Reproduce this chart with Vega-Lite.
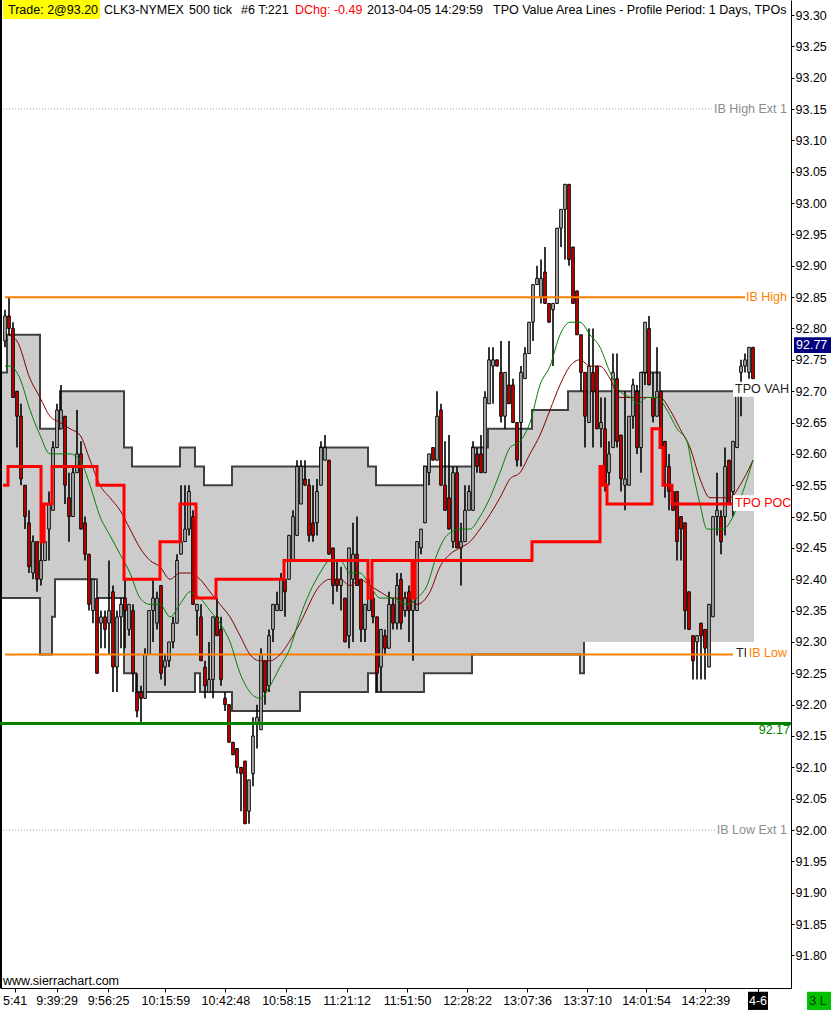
{
  "$schema": "https://vega.github.io/schema/vega-lite/v6.json",
  "width": 791,
  "height": 988,
  "autosize": "none",
  "padding": {"left": 0, "top": 0, "right": 41, "bottom": 22},
  "background": "white",
  "config": {"view": {"stroke": null}, "font": "Liberation Sans"},
  "datasets": {
    "candles": [
      {"k":1,"o":92.78,"h":92.83,"l":92.77,"c":92.82},{"k":2,"o":92.82,"h":92.85,"l":92.79,"c":92.80},{"k":3,"o":92.80,"h":92.81,"l":92.69,"c":92.69},{"k":4,"o":92.70,"h":92.70,"l":92.61,"c":92.66},{"k":5,"o":92.66,"h":92.68,"l":92.55,"c":92.56},
      {"k":6,"o":92.55,"h":92.55,"l":92.48,"c":92.50},{"k":7,"o":92.49,"h":92.51,"l":92.41,"c":92.42},{"k":8,"o":92.41,"h":92.47,"l":92.40,"c":92.46},{"k":9,"o":92.46,"h":92.46,"l":92.38,"c":92.40},{"k":10,"o":92.40,"h":92.46,"l":92.39,"c":92.43},
      {"k":11,"o":92.43,"h":92.46,"l":92.43,"c":92.46},{"k":12,"o":92.48,"h":92.54,"l":92.43,"c":92.52},{"k":13,"o":92.51,"h":92.62,"l":92.51,"c":92.61},{"k":14,"o":92.61,"h":92.68,"l":92.61,"c":92.67},{"k":15,"o":92.64,"h":92.71,"l":92.64,"c":92.67},
      {"k":16,"o":92.66,"h":92.66,"l":92.52,"c":92.55},{"k":17,"o":92.53,"h":92.57,"l":92.46,"c":92.50},{"k":18,"o":92.50,"h":92.58,"l":92.50,"c":92.57},{"k":19,"o":92.57,"h":92.67,"l":92.57,"c":92.60},{"k":20,"o":92.60,"h":92.62,"l":92.48,"c":92.48},
      {"k":21,"o":92.49,"h":92.50,"l":92.43,"c":92.44},{"k":22,"o":92.44,"h":92.44,"l":92.35,"c":92.36},{"k":23,"o":92.35,"h":92.40,"l":92.33,"c":92.40},{"k":24,"o":92.37,"h":92.37,"l":92.25,"c":92.25},{"k":25,"o":92.33,"h":92.35,"l":92.29,"c":92.34},
      {"k":26,"o":92.34,"h":92.35,"l":92.29,"c":92.32},{"k":27,"o":92.33,"h":92.43,"l":92.28,"c":92.35},{"k":28,"o":92.38,"h":92.39,"l":92.22,"c":92.26},{"k":29,"o":92.26,"h":92.35,"l":92.22,"c":92.34},{"k":30,"o":92.34,"h":92.37,"l":92.29,"c":92.36},
      {"k":31,"o":92.37,"h":92.40,"l":92.29,"c":92.35},{"k":32,"o":92.32,"h":92.36,"l":92.31,"c":92.36},{"k":33,"o":92.35,"h":92.36,"l":92.22,"c":92.25},{"k":34,"o":92.22,"h":92.25,"l":92.18,"c":92.19},{"k":35,"o":92.22,"h":92.23,"l":92.17,"c":92.21},
      {"k":36,"o":92.21,"h":92.29,"l":92.21,"c":92.28},{"k":37,"o":92.28,"h":92.35,"l":92.28,"c":92.35},{"k":38,"o":92.35,"h":92.40,"l":92.30,"c":92.37},{"k":39,"o":92.33,"h":92.38,"l":92.32,"c":92.37},{"k":40,"o":92.39,"h":92.39,"l":92.24,"c":92.25},
      {"k":41,"o":92.26,"h":92.28,"l":92.23,"c":92.27},{"k":42,"o":92.27,"h":92.30,"l":92.26,"c":92.30},{"k":43,"o":92.30,"h":92.34,"l":92.29,"c":92.33},{"k":44,"o":92.33,"h":92.44,"l":92.33,"c":92.43},{"k":45,"o":92.44,"h":92.55,"l":92.44,"c":92.46},
      {"k":46,"o":92.46,"h":92.55,"l":92.46,"c":92.48},{"k":47,"o":92.48,"h":92.55,"l":92.47,"c":92.54},{"k":48,"o":92.50,"h":92.51,"l":92.36,"c":92.36},{"k":49,"o":92.35,"h":92.36,"l":92.31,"c":92.36},{"k":50,"o":92.34,"h":92.36,"l":92.27,"c":92.27},
      {"k":51,"o":92.26,"h":92.27,"l":92.21,"c":92.23},{"k":52,"o":92.22,"h":92.30,"l":92.22,"c":92.24},{"k":53,"o":92.24,"h":92.34,"l":92.21,"c":92.34},{"k":54,"o":92.34,"h":92.37,"l":92.31,"c":92.31},{"k":55,"o":92.32,"h":92.34,"l":92.23,"c":92.24},
      {"k":56,"o":92.21,"h":92.22,"l":92.19,"c":92.20},{"k":57,"o":92.20,"h":92.20,"l":92.14,"c":92.14},{"k":58,"o":92.14,"h":92.14,"l":92.12,"c":92.12},{"k":59,"o":92.13,"h":92.13,"l":92.09,"c":92.10},{"k":60,"o":92.10,"h":92.10,"l":92.03,"c":92.09},
      {"k":61,"o":92.11,"h":92.11,"l":92.01,"c":92.01},{"k":62,"o":92.03,"h":92.08,"l":92.01,"c":92.08},{"k":63,"o":92.09,"h":92.18,"l":92.07,"c":92.15},{"k":64,"o":92.17,"h":92.20,"l":92.13,"c":92.18},{"k":65,"o":92.16,"h":92.29,"l":92.16,"c":92.28},
      {"k":66,"o":92.27,"h":92.27,"l":92.20,"c":92.22},{"k":67,"o":92.23,"h":92.32,"l":92.22,"c":92.31},{"k":68,"o":92.32,"h":92.36,"l":92.30,"c":92.36},{"k":69,"o":92.35,"h":92.38,"l":92.35,"c":92.36},{"k":70,"o":92.35,"h":92.41,"l":92.35,"c":92.40},
      {"k":71,"o":92.40,"h":92.40,"l":92.34,"c":92.38},{"k":72,"o":92.40,"h":92.47,"l":92.40,"c":92.47},{"k":73,"o":92.43,"h":92.51,"l":92.43,"c":92.50},{"k":74,"o":92.47,"h":92.59,"l":92.47,"c":92.58},{"k":75,"o":92.52,"h":92.59,"l":92.52,"c":92.58},
      {"k":76,"o":92.56,"h":92.59,"l":92.55,"c":92.55},{"k":77,"o":92.55,"h":92.56,"l":92.46,"c":92.47},{"k":78,"o":92.49,"h":92.55,"l":92.46,"c":92.47},{"k":79,"o":92.49,"h":92.56,"l":92.47,"c":92.54},{"k":80,"o":92.55,"h":92.62,"l":92.55,"c":92.61},
      {"k":81,"o":92.59,"h":92.63,"l":92.59,"c":92.61},{"k":82,"o":92.59,"h":92.59,"l":92.44,"c":92.44},{"k":83,"o":92.45,"h":92.45,"l":92.36,"c":92.39},{"k":84,"o":92.40,"h":92.43,"l":92.38,"c":92.39},{"k":85,"o":92.39,"h":92.42,"l":92.35,"c":92.40},
      {"k":86,"o":92.37,"h":92.37,"l":92.30,"c":92.30},{"k":87,"o":92.31,"h":92.45,"l":92.29,"c":92.45},{"k":88,"o":92.40,"h":92.49,"l":92.30,"c":92.44},{"k":89,"o":92.44,"h":92.50,"l":92.39,"c":92.39},{"k":90,"o":92.40,"h":92.40,"l":92.30,"c":92.32},
      {"k":91,"o":92.32,"h":92.36,"l":92.30,"c":92.36},{"k":92,"o":92.35,"h":92.40,"l":92.35,"c":92.39},{"k":93,"o":92.37,"h":92.38,"l":92.33,"c":92.34},{"k":94,"o":92.34,"h":92.34,"l":92.22,"c":92.25},{"k":95,"o":92.26,"h":92.32,"l":92.22,"c":92.32},
      {"k":96,"o":92.31,"h":92.32,"l":92.28,"c":92.29},{"k":97,"o":92.29,"h":92.38,"l":92.29,"c":92.36},{"k":98,"o":92.36,"h":92.37,"l":92.32,"c":92.33},{"k":99,"o":92.33,"h":92.41,"l":92.32,"c":92.39},{"k":100,"o":92.40,"h":92.41,"l":92.32,"c":92.33},
      {"k":101,"o":92.35,"h":92.38,"l":92.34,"c":92.37},{"k":102,"o":92.38,"h":92.39,"l":92.30,"c":92.35},{"k":103,"o":92.35,"h":92.37,"l":92.27,"c":92.37},{"k":104,"o":92.35,"h":92.46,"l":92.35,"c":92.46},{"k":105,"o":92.45,"h":92.48,"l":92.44,"c":92.48},
      {"k":106,"o":92.49,"h":92.58,"l":92.49,"c":92.58},{"k":107,"o":92.57,"h":92.60,"l":92.55,"c":92.60},{"k":108,"o":92.61,"h":92.61,"l":92.59,"c":92.59},{"k":109,"o":92.59,"h":92.70,"l":92.59,"c":92.66},{"k":110,"o":92.67,"h":92.68,"l":92.55,"c":92.55},
      {"k":111,"o":92.55,"h":92.62,"l":92.51,"c":92.51},{"k":112,"o":92.53,"h":92.63,"l":92.48,"c":92.48},{"k":113,"o":92.46,"h":92.58,"l":92.45,"c":92.57},{"k":114,"o":92.57,"h":92.58,"l":92.45,"c":92.45},{"k":115,"o":92.45,"h":92.49,"l":92.39,"c":92.46},
      {"k":116,"o":92.46,"h":92.55,"l":92.46,"c":92.51},{"k":117,"o":92.51,"h":92.55,"l":92.51,"c":92.54},{"k":118,"o":92.51,"h":92.62,"l":92.51,"c":92.61},{"k":119,"o":92.60,"h":92.61,"l":92.57,"c":92.58},{"k":120,"o":92.60,"h":92.63,"l":92.57,"c":92.57},
      {"k":121,"o":92.57,"h":92.70,"l":92.57,"c":92.69},{"k":122,"o":92.68,"h":92.77,"l":92.68,"c":92.75},{"k":123,"o":92.74,"h":92.77,"l":92.68,"c":92.75},{"k":124,"o":92.75,"h":92.75,"l":92.74,"c":92.74},{"k":125,"o":92.73,"h":92.78,"l":92.65,"c":92.66},
      {"k":126,"o":92.66,"h":92.73,"l":92.64,"c":92.73},{"k":127,"o":92.71,"h":92.78,"l":92.68,"c":92.68},{"k":128,"o":92.71,"h":92.72,"l":92.65,"c":92.65},{"k":129,"o":92.65,"h":92.65,"l":92.58,"c":92.59},{"k":130,"o":92.65,"h":92.74,"l":92.58,"c":92.73},
      {"k":131,"o":92.72,"h":92.77,"l":92.72,"c":92.76},{"k":132,"o":92.76,"h":92.81,"l":92.76,"c":92.81},{"k":133,"o":92.81,"h":92.87,"l":92.78,"c":92.87},{"k":134,"o":92.87,"h":92.90,"l":92.87,"c":92.88},{"k":135,"o":92.85,"h":92.91,"l":92.84,"c":92.88},
      {"k":136,"o":92.89,"h":92.93,"l":92.84,"c":92.84},{"k":137,"o":92.84,"h":92.84,"l":92.81,"c":92.81},{"k":138,"o":92.83,"h":92.84,"l":92.74,"c":92.84},{"k":139,"o":92.84,"h":92.96,"l":92.84,"c":92.96},{"k":140,"o":92.96,"h":92.99,"l":92.93,"c":92.99},
      {"k":141,"o":92.99,"h":93.03,"l":92.91,"c":93.03},{"k":142,"o":93.03,"h":93.03,"l":92.90,"c":92.91},{"k":143,"o":92.93,"h":92.93,"l":92.84,"c":92.84},{"k":144,"o":92.86,"h":92.86,"l":92.79,"c":92.79},{"k":145,"o":92.79,"h":92.79,"l":92.70,"c":92.73},
      {"k":146,"o":92.73,"h":92.73,"l":92.61,"c":92.66},{"k":147,"o":92.65,"h":92.80,"l":92.65,"c":92.74},{"k":148,"o":92.73,"h":92.80,"l":92.61,"c":92.70},{"k":149,"o":92.74,"h":92.74,"l":92.64,"c":92.64},{"k":150,"o":92.64,"h":92.69,"l":92.61,"c":92.65},
      {"k":151,"o":92.64,"h":92.69,"l":92.54,"c":92.55},{"k":152,"o":92.57,"h":92.62,"l":92.55,"c":92.60},{"k":153,"o":92.61,"h":92.76,"l":92.61,"c":92.73},{"k":154,"o":92.72,"h":92.76,"l":92.61,"c":92.62},{"k":155,"o":92.63,"h":92.63,"l":92.54,"c":92.56},
      {"k":156,"o":92.55,"h":92.70,"l":92.51,"c":92.56},{"k":157,"o":92.55,"h":92.66,"l":92.55,"c":92.66},{"k":158,"o":92.66,"h":92.72,"l":92.64,"c":92.71},{"k":159,"o":92.70,"h":92.71,"l":92.60,"c":92.61},{"k":160,"o":92.61,"h":92.73,"l":92.57,"c":92.73},
      {"k":161,"o":92.73,"h":92.81,"l":92.71,"c":92.81},{"k":162,"o":92.80,"h":92.82,"l":92.71,"c":92.71},{"k":163,"o":92.69,"h":92.73,"l":92.65,"c":92.66},{"k":164,"o":92.66,"h":92.77,"l":92.66,"c":92.70},{"k":165,"o":92.70,"h":92.70,"l":92.61,"c":92.61},
      {"k":166,"o":92.62,"h":92.62,"l":92.53,"c":92.58},{"k":167,"o":92.58,"h":92.60,"l":92.51,"c":92.54},{"k":168,"o":92.54,"h":92.54,"l":92.51,"c":92.51},{"k":169,"o":92.54,"h":92.54,"l":92.43,"c":92.46},{"k":170,"o":92.50,"h":92.50,"l":92.43,"c":92.48},
      {"k":171,"o":92.49,"h":92.49,"l":92.32,"c":92.35},{"k":172,"o":92.38,"h":92.38,"l":92.32,"c":92.32},{"k":173,"o":92.31,"h":92.31,"l":92.24,"c":92.27},{"k":174,"o":92.30,"h":92.31,"l":92.24,"c":92.31},{"k":175,"o":92.33,"h":92.33,"l":92.24,"c":92.31},
      {"k":176,"o":92.32,"h":92.32,"l":92.24,"c":92.29},{"k":177,"o":92.26,"h":92.36,"l":92.26,"c":92.36},{"k":178,"o":92.34,"h":92.50,"l":92.34,"c":92.50},{"k":179,"o":92.50,"h":92.57,"l":92.47,"c":92.51},{"k":180,"o":92.50,"h":92.51,"l":92.44,"c":92.46},
      {"k":181,"o":92.50,"h":92.61,"l":92.47,"c":92.58},{"k":182,"o":92.59,"h":92.59,"l":92.52,"c":92.52},{"k":183,"o":92.54,"h":92.62,"l":92.50,"c":92.62},{"k":184,"o":92.61,"h":92.71,"l":92.61,"c":92.70},{"k":185,"o":92.73,"h":92.75,"l":92.66,"c":92.74},
      {"k":186,"o":92.74,"h":92.76,"l":92.73,"c":92.75},{"k":187,"o":92.73,"h":92.77,"l":92.72,"c":92.77},{"k":188,"o":92.77,"h":92.77,"l":92.72,"c":92.72}
    ],
    "va": [
      {"k":-0.25,"vah":92.73,"val":92.37},{"k":1.5,"vah":92.79,"val":92.37},{"k":9.75,"vah":92.64,"val":92.28},{"k":12.75,"vah":92.64,"val":92.34},{"k":13.5,"vah":92.64,"val":92.40},
      {"k":14.75,"vah":92.70,"val":92.40},{"k":24,"vah":92.70,"val":92.37},{"k":30.75,"vah":92.61,"val":92.25},{"k":32.75,"vah":92.58,"val":92.25},{"k":33.75,"vah":92.58,"val":92.22},
      {"k":44.75,"vah":92.61,"val":92.22},{"k":48.5,"vah":92.58,"val":92.25},{"k":49.75,"vah":92.58,"val":92.22},{"k":50.75,"vah":92.55,"val":92.22},{"k":57.75,"vah":92.58,"val":92.19},
      {"k":74.75,"vah":92.58,"val":92.22},{"k":79.75,"vah":92.61,"val":92.22},{"k":91.75,"vah":92.58,"val":92.25},{"k":93.75,"vah":92.55,"val":92.22},{"k":105.75,"vah":92.58,"val":92.25},
      {"k":117.75,"vah":92.61,"val":92.28},{"k":121.75,"vah":92.64,"val":92.28},{"k":132.75,"vah":92.67,"val":92.28},{"k":141.75,"vah":92.70,"val":92.28},{"k":144.75,"vah":92.70,"val":92.25},
      {"k":145.75,"vah":92.70,"val":92.30},{"k":160.25,"vah":92.73,"val":92.30},{"k":164.75,"vah":92.70,"val":92.30},{"k":188.25,"vah":92.70,"val":92.30}
    ],
    "poc": [
      {"k":0.5,"p":92.55},{"k":1.75,"p":92.58},{"k":10,"p":92.46},{"k":10.75,"p":92.52},{"k":12.75,"p":92.58},{"k":24,"p":92.55},{"k":30.75,"p":92.40},
      {"k":39.75,"p":92.46},{"k":44.75,"p":92.52},{"k":48.75,"p":92.37},{"k":53.75,"p":92.40},{"k":70.75,"p":92.43},{"k":91.75,"p":92.37},{"k":92.75,"p":92.43},
      {"k":102.75,"p":92.37},{"k":103.5,"p":92.43},{"k":132.75,"p":92.46},{"k":149.75,"p":92.58},{"k":150.5,"p":92.55},{"k":151.5,"p":92.52},{"k":162.75,"p":92.64},
      {"k":164.75,"p":92.61},{"k":165.5,"p":92.55},{"k":167.75,"p":92.52},{"k":183,"p":92.52}
    ],
    "maFast": [
      {"k":1,"p":92.74},{"k":2.25,"p":92.74},{"k":4.75,"p":92.72},{"k":7.25,"p":92.67},{"k":9.75,"p":92.63},{"k":12.25,"p":92.60},{"k":14.75,"p":92.60},{"k":17.25,"p":92.60},
      {"k":19.75,"p":92.59},{"k":22.25,"p":92.55},{"k":24.75,"p":92.50},{"k":27.25,"p":92.47},{"k":29.75,"p":92.44},{"k":32.25,"p":92.41},{"k":34.75,"p":92.37},{"k":37.25,"p":92.36},
      {"k":39.75,"p":92.36},{"k":42.25,"p":92.34},{"k":44.75,"p":92.36},{"k":47.25,"p":92.38},{"k":49.75,"p":92.37},{"k":52.25,"p":92.35},{"k":54.75,"p":92.33},{"k":57.25,"p":92.30},
      {"k":59.75,"p":92.25},{"k":62.25,"p":92.22},{"k":64.75,"p":92.21},{"k":67.25,"p":92.23},{"k":69.75,"p":92.26},{"k":72.25,"p":92.29},{"k":74.75,"p":92.34},{"k":77.25,"p":92.38},
      {"k":79.75,"p":92.41},{"k":82.25,"p":92.43},{"k":84.75,"p":92.43},{"k":87.25,"p":92.41},{"k":89.75,"p":92.41},{"k":92.25,"p":92.39},{"k":94.75,"p":92.37},{"k":98,"p":92.37},
      {"k":101.5,"p":92.36},{"k":104,"p":92.37},{"k":106.5,"p":92.39},{"k":109,"p":92.44},{"k":111.5,"p":92.47},{"k":114.75,"p":92.48},{"k":117.25,"p":92.48},{"k":119.75,"p":92.50},
      {"k":122.25,"p":92.53},{"k":124.75,"p":92.57},{"k":127.25,"p":92.61},{"k":129.75,"p":92.62},{"k":132.25,"p":92.65},{"k":134.75,"p":92.71},{"k":137.25,"p":92.74},{"k":139.75,"p":92.79},
      {"k":142.25,"p":92.81},{"k":144.75,"p":92.81},{"k":147.25,"p":92.79},{"k":149.75,"p":92.77},{"k":152.25,"p":92.73},{"k":154.75,"p":92.70},{"k":157.25,"p":92.69},{"k":159.25,"p":92.68},
      {"k":161.5,"p":92.69},{"k":164,"p":92.69},{"k":166.5,"p":92.67},{"k":169,"p":92.64},{"k":171.5,"p":92.62},{"k":173,"p":92.57},{"k":174.75,"p":92.52},{"k":176.5,"p":92.48},
      {"k":178,"p":92.48},{"k":180.5,"p":92.48},{"k":183,"p":92.50},{"k":185.5,"p":92.54},{"k":188,"p":92.59}
    ],
    "maSlow": [
      {"k":1.75,"p":92.79},{"k":4,"p":92.78},{"k":7.25,"p":92.72},{"k":9.75,"p":92.69},{"k":12.25,"p":92.66},{"k":14.75,"p":92.65},{"k":17.25,"p":92.64},{"k":19.75,"p":92.63},
      {"k":22.25,"p":92.59},{"k":24.75,"p":92.55},{"k":27.25,"p":92.53},{"k":29.75,"p":92.51},{"k":32.25,"p":92.48},{"k":34.75,"p":92.45},{"k":37.25,"p":92.43},{"k":39.75,"p":92.42},
      {"k":42.25,"p":92.40},{"k":44.75,"p":92.41},{"k":47.25,"p":92.41},{"k":49.75,"p":92.40},{"k":52.25,"p":92.38},{"k":54.75,"p":92.36},{"k":57.25,"p":92.34},{"k":59.75,"p":92.31},
      {"k":62.25,"p":92.28},{"k":64.75,"p":92.27},{"k":67.25,"p":92.27},{"k":69.75,"p":92.28},{"k":73,"p":92.31},{"k":74.75,"p":92.33},{"k":79.75,"p":92.39},{"k":82.25,"p":92.40},
      {"k":84.75,"p":92.40},{"k":87.25,"p":92.39},{"k":89.75,"p":92.40},{"k":92.25,"p":92.39},{"k":94.75,"p":92.38},{"k":98,"p":92.37},{"k":101.5,"p":92.37},{"k":104,"p":92.36},
      {"k":107.25,"p":92.38},{"k":109.75,"p":92.42},{"k":112.25,"p":92.44},{"k":114.75,"p":92.45},{"k":117.25,"p":92.46},{"k":119.75,"p":92.48},{"k":124.75,"p":92.53},{"k":127.25,"p":92.56},
      {"k":129.75,"p":92.57},{"k":132.25,"p":92.60},{"k":134.75,"p":92.63},{"k":137.25,"p":92.67},{"k":139.75,"p":92.71},{"k":142.25,"p":92.74},{"k":144.75,"p":92.75},{"k":147.25,"p":92.74},
      {"k":149.75,"p":92.74},{"k":152.25,"p":92.72},{"k":154.75,"p":92.69},{"k":157.25,"p":92.69},{"k":159.75,"p":92.69},{"k":162.25,"p":92.69},{"k":164.75,"p":92.69},{"k":167.25,"p":92.67},
      {"k":169.75,"p":92.64},{"k":172.25,"p":92.61},{"k":174.75,"p":92.56},{"k":177.25,"p":92.53},{"k":179.75,"p":92.53},{"k":182.25,"p":92.53},{"k":184.75,"p":92.55},{"k":188,"p":92.59}
    ]
  },
  "encoding": {
    "x": {
      "field": "k",
      "type": "quantitative",
      "scale": {"domain": [-0.25, 197.5], "nice": false, "zero": false, "padding": 0},
      "axis": {
        "orient": "bottom",
        "title": null,
        "grid": false,
        "values": [3.4, 13.9, 26.75, 41.1, 56.1, 71.25, 86.4, 101.5, 116.5, 131.5, 146.5, 161.25, 176.1, 189.25],
        "labelExpr": "['5:41','9:39:29','9:56:25','10:15:59','10:42:48','10:58:15','11:21:12','11:51:50','12:28:22','13:07:36','13:37:10','14:01:54','14:22:39',''][indexof([3.4, 13.9, 26.75, 41.1, 56.1, 71.25, 86.4, 101.5, 116.5, 131.5, 146.5, 161.25, 176.1, 189.25], datum.value)]",
        "domainColor": "black",
        "tickColor": "black",
        "tickSize": 4,
        "labelColor": "black",
        "labelFont": "Liberation Sans",
        "labelFontSize": 12.5,
        "labelPadding": 2,
        "labelOverlap": false,
        "labelFlush": false,
        "labelBound": false
      }
    },
    "y": {
      "field": "p",
      "type": "quantitative",
      "scale": {"domain": [91.748, 93.324], "nice": false, "zero": false, "padding": 0},
      "axis": {
        "orient": "right",
        "title": null,
        "grid": false,
        "values": [91.8, 91.85, 91.9, 91.95, 92.0, 92.05, 92.1, 92.15, 92.2, 92.25, 92.3, 92.35, 92.4, 92.45, 92.5, 92.55, 92.6, 92.65, 92.7, 92.75, 92.8, 92.85, 92.9, 92.95, 93.0, 93.05, 93.1, 93.15, 93.2, 93.25, 93.3],
        "format": ".2f",
        "domainColor": "black",
        "tickColor": "black",
        "tickSize": 3,
        "labelColor": "black",
        "labelFont": "Liberation Sans",
        "labelFontSize": 12.5,
        "labelPadding": 1
      }
    }
  },
  "layer": [
    {
      "data": {"name": "va"},
      "mark": {"type": "area", "interpolate": "step-after", "color": "#cccccc"},
      "encoding": {"y": {"field": "vah", "type": "quantitative", "title": null}, "y2": {"field": "val"}}
    },
    {
      "data": {"name": "va"},
      "mark": {"type": "line", "interpolate": "step-after", "color": "#404040", "strokeWidth": 2},
      "encoding": {"y": {"field": "vah", "type": "quantitative", "title": null}}
    },
    {
      "data": {"name": "va"},
      "transform": [{"filter": "datum.k <= 145.75"}],
      "mark": {"type": "line", "interpolate": "step-after", "color": "#404040", "strokeWidth": 2},
      "encoding": {"y": {"field": "val", "type": "quantitative", "title": null}}
    },
    {
      "data": {"values": [{"k": -0.25, "p": 91.748, "p2": 93.324}]},
      "mark": {"type": "rule", "color": "black", "strokeWidth": 4},
      "encoding": {"y2": {"field": "p2"}}
    },
    {
      "data": {"name": "candles"},
      "mark": {"type": "rule", "color": "black", "strokeWidth": 1.6},
      "encoding": {"y": {"field": "l", "type": "quantitative", "title": null}, "y2": {"field": "h"}}
    },
    {
      "data": {"name": "candles"},
      "mark": {"type": "bar", "width": 2.6, "stroke": "black", "strokeWidth": 1},
      "encoding": {
        "y": {"field": "o", "type": "quantitative", "title": null},
        "y2": {"field": "c"},
        "fill": {"condition": {"test": "datum.c < datum.o", "value": "#e00000"}, "value": "#c0c0c0"}
      }
    },
    {
      "data": {"values": [{"k": 0.5, "k2": 177.75, "p": 93.15}, {"k": 0.5, "k2": 178.75, "p": 92.0}]},
      "mark": {"type": "rule", "color": "#a0a0a0", "strokeWidth": 1, "strokeDash": [1, 2]},
      "encoding": {"x2": {"field": "k2"}}
    },
    {
      "data": {"values": [{"k": 1, "k2": 186, "p": 92.85}, {"k": 1, "k2": 186.5, "p": 92.28}]},
      "mark": {"type": "rule", "color": "#ff8000", "strokeWidth": 2},
      "encoding": {"x2": {"field": "k2"}}
    },
    {
      "data": {"values": [{"k": -0.25, "k2": 197.5, "p": 92.17}]},
      "mark": {"type": "rule", "color": "#008000", "strokeWidth": 3},
      "encoding": {"x2": {"field": "k2"}}
    },
    {
      "data": {"name": "maSlow"},
      "mark": {"type": "line", "interpolate": "monotone", "color": "#800000", "strokeWidth": 1},
      "encoding": {}
    },
    {
      "data": {"name": "maFast"},
      "mark": {"type": "line", "interpolate": "monotone", "color": "#008000", "strokeWidth": 1},
      "encoding": {}
    },
    {
      "data": {"name": "poc"},
      "mark": {"type": "line", "interpolate": "step-after", "color": "#ff0000", "strokeWidth": 3},
      "encoding": {}
    },
    {
      "data": {"values": [
        {"k": 183, "k2": 196.75, "p": 92.691, "p2": 92.715},
        {"k": 183, "k2": 196.75, "p": 92.509, "p2": 92.534},
        {"k": 183, "k2": 196.75, "p": 92.270, "p2": 92.295}
      ]},
      "mark": {"type": "rect", "color": "white"},
      "encoding": {"x2": {"field": "k2"}, "y2": {"field": "p2"}}
    },
    {
      "data": {"values": [{"k": 183.5, "p": 92.703, "t": "TPO VAH"}, {"k": 183.75, "p": 92.282, "t": "TPO VAL"}]},
      "mark": {"type": "text", "align": "left", "baseline": "middle", "fontSize": 12.5, "color": "#202020"},
      "encoding": {"text": {"field": "t"}}
    },
    {
      "data": {"values": [{"k": 183.5, "p": 92.522, "t": "TPO POC"}]},
      "mark": {"type": "text", "align": "left", "baseline": "middle", "fontSize": 12.5, "color": "#ff0000"},
      "encoding": {"text": {"field": "t"}}
    },
    {
      "data": {"values": [{"k": 186.25, "k2": 196.75, "p": 92.270, "p2": 92.295}]},
      "mark": {"type": "rect", "color": "white"},
      "encoding": {"x2": {"field": "k2"}, "y2": {"field": "p2"}}
    },
    {
      "data": {"values": [{"k": 196.5, "p": 93.15, "t": "IB High Ext 1"}, {"k": 196.5, "p": 92.0, "t": "IB Low Ext 1"}]},
      "mark": {"type": "text", "align": "right", "baseline": "middle", "fontSize": 12.5, "color": "#8c8c8c"},
      "encoding": {"text": {"field": "t"}}
    },
    {
      "data": {"values": [{"k": 196.5, "p": 92.85, "t": "IB High"}, {"k": 196.5, "p": 92.282, "t": "IB Low"}]},
      "mark": {"type": "text", "align": "right", "baseline": "middle", "fontSize": 12.5, "color": "#ff8000"},
      "encoding": {"text": {"field": "t"}}
    },
    {
      "data": {"values": [{"k": 197.25, "p": 92.16, "t": "92.17"}]},
      "mark": {"type": "text", "align": "right", "baseline": "middle", "fontSize": 12.5, "color": "#008000"},
      "encoding": {"text": {"field": "t"}}
    },
    {
      "data": {"values": [{"k": 0.5, "k2": 24.75, "p": 93.2936, "p2": 93.33}]},
      "mark": {"type": "rect", "color": "#ffff00"},
      "encoding": {"x2": {"field": "k2"}, "y2": {"field": "p2"}}
    },
    {
      "data": {"values": [
        {"k": 1.75, "p": 93.308, "t": "Trade: 2@93.20"},
        {"k": 25.75, "p": 93.308, "t": "CLK3-NYMEX"},
        {"k": 47, "p": 93.308, "t": "500 tick"},
        {"k": 60, "p": 93.308, "t": "#6 T:221"},
        {"k": 91.5, "p": 93.308, "t": "2013-04-05 14:29:59"},
        {"k": 123, "p": 93.308, "t": "TPO Value Area Lines - Profile Period: 1 Days, TPOs"},
        {"k": 0.5, "p": 91.759, "t": "www.sierrachart.com"}
      ]},
      "mark": {"type": "text", "align": "left", "baseline": "middle", "fontSize": 12.5, "color": "black"},
      "encoding": {"text": {"field": "t"}}
    },
    {
      "data": {"values": [{"k": 73.5, "p": 93.308, "t": "DChg: -0.49"}]},
      "mark": {"type": "text", "align": "left", "baseline": "middle", "fontSize": 12.5, "color": "#ff0000"},
      "encoding": {"text": {"field": "t"}}
    },
    {
      "data": {"values": [{"k": 198.25, "k2": 207.5, "p": 92.761, "p2": 92.786}]},
      "mark": {"type": "rect", "color": "#000080"},
      "encoding": {"x2": {"field": "k2"}, "y2": {"field": "p2"}}
    },
    {
      "data": {"values": [{"k": 186.75, "k2": 191.75, "p": 91.713, "p2": 91.742}]},
      "mark": {"type": "rect", "color": "black"},
      "encoding": {"x2": {"field": "k2"}, "y2": {"field": "p2"}}
    },
    {
      "data": {"values": [{"k": 201.5, "k2": 207.5, "p": 91.713, "p2": 91.742}]},
      "mark": {"type": "rect", "color": "#00c000"},
      "encoding": {"x2": {"field": "k2"}, "y2": {"field": "p2"}}
    },
    {
      "data": {"values": [{"k": 198.75, "p": 92.774, "t": "92.77"}]},
      "mark": {"type": "text", "align": "left", "baseline": "middle", "fontSize": 12.5, "color": "white"},
      "encoding": {"text": {"field": "t"}}
    },
    {
      "data": {"values": [{"k": 189.25, "p": 91.728, "t": "4-6"}]},
      "mark": {"type": "text", "align": "center", "baseline": "middle", "fontSize": 12.5, "color": "white"},
      "encoding": {"text": {"field": "t"}}
    },
    {
      "data": {"values": [{"k": 204.25, "p": 91.728, "t": "3 L"}]},
      "mark": {"type": "text", "align": "center", "baseline": "middle", "fontSize": 12.5, "color": "#003300"},
      "encoding": {"text": {"field": "t"}}
    }
  ]
}
